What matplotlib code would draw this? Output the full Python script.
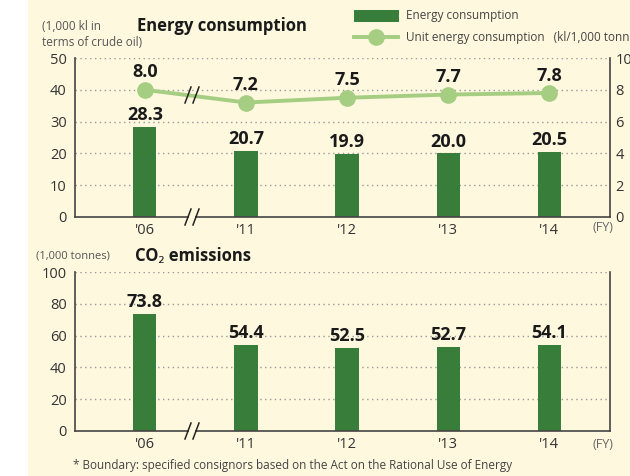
import matplotlib
matplotlib.use("Agg")
import matplotlib.pyplot as plt
from matplotlib.patches import Rectangle
from matplotlib.lines import Line2D

plt.rcParams['font.family'] = ['Open Sans', 'Noto Sans', 'DejaVu Sans']

years = ["'06", "'11", "'12", "'13", "'14"]
energy = [28.3, 20.7, 19.9, 20.0, 20.5]
unit_energy = [8.0, 7.2, 7.5, 7.7, 7.8]
co2 = [73.8, 54.4, 52.5, 52.7, 54.1]
energy_ticks = [0, 10, 20, 30, 40, 50]
unit_ticks = [0, 2, 4, 6, 8, 10]
co2_ticks = [0, 20, 40, 60, 80, 100]

W, H = 630, 476
BG = '#FEF8DF'
BAR = '#387D3A'
LINE = '#A5CE82'
AX = '#444444'
TXT = '#333333'

fig = plt.figure(figsize=(W / 100, H / 100), dpi=100)
fig.patch.set_facecolor('white')
fig.add_artist(Rectangle((28 / W, 0), 1 - 28 / W, 1, transform=fig.transFigure,
                         facecolor=BG, edgecolor='none', zorder=-10))


def fx(px):
    return px / W


def fy(py):
    return 1 - py / H


def make_axes(top_px, bottom_px):
    ax = fig.add_axes([fx(75), fy(bottom_px), fx(610) - fx(75), (bottom_px - top_px) / H])
    ax.set_facecolor('none')
    ax.spines['top'].set_visible(False)
    for s in ['left', 'right', 'bottom']:
        ax.spines[s].set_color(AX)
        ax.spines[s].set_linewidth(1.2)
    ax.set_xlim(-0.69, 4.60)
    ax.tick_params(axis='both', length=0, labelsize=10.5, labelcolor=TXT)
    ax.tick_params(axis='y', pad=6)
    ax.tick_params(axis='x', pad=4)
    return ax


def grid(ax, ticks):
    for t in ticks[1:]:
        ax.axhline(t, color='#999999', lw=1.0, ls=(0, (1, 2.5)), zorder=0)


x = list(range(len(years)))

# ---------- top chart ----------
ax1 = make_axes(58, 217)
ax1.set_ylim(0, 50)
ax1.set_yticks(energy_ticks)
grid(ax1, energy_ticks)
ax1.bar(x, energy, width=0.23, color=BAR, zorder=2)
for xi, v in zip(x, energy):
    ax1.annotate(f'{v:.1f}', (xi, v), xytext=(0, 2), textcoords='offset points',
                 ha='center', va='bottom', fontsize=13, fontweight='bold', color='#1a1a1a')
ax1.set_xticks(x)
ax1.set_xticklabels(years)

ax2 = ax1.twinx()
ax2.set_ylim(0, 10)
ax2.set_yticks(unit_ticks)
ax2.set_xlim(-0.69, 4.60)
for s in ['top', 'left', 'bottom', 'right']:
    ax2.spines[s].set_visible(False)
ax2.tick_params(axis='y', length=0, labelsize=10.5, labelcolor=TXT, pad=4)
ax2.plot(x, unit_energy, color=LINE, lw=2.8, marker='o', markersize=11,
         markeredgecolor=LINE, zorder=4)
for xi, v in zip(x, unit_energy):
    ax2.annotate(f'{v:.1f}', (xi, v), xytext=(0, 6), textcoords='offset points',
                 ha='center', va='bottom', fontsize=13, fontweight='bold', color='#1a1a1a')


def slashes(xc, ypx_center):
    for dx in (-4, 4):
        x0 = fx(xc + dx - 3)
        x1 = fx(xc + dx + 3)
        fig.add_artist(Line2D([x0, x1], [fy(ypx_center + 8), fy(ypx_center - 8)],
                              transform=fig.transFigure, color='#222222', lw=1.1, zorder=8))


def gap(xc, ypx):
    fig.add_artist(Rectangle((fx(xc - 3), fy(ypx + 2)), 6 / W, 4 / H, transform=fig.transFigure,
                             facecolor=BG, edgecolor='none', zorder=7))


gap(192, 217)
slashes(192, 217)
slashes(192, 95)

fig.text(fx(603), fy(227), '(FY)', ha='center', va='center', fontsize=9, color='#666666')

# ---------- bottom chart ----------
ax3 = make_axes(272, 431)
ax3.set_ylim(0, 100)
ax3.set_yticks(co2_ticks)
grid(ax3, co2_ticks)
ax3.bar(x, co2, width=0.23, color=BAR, zorder=2)
for xi, v in zip(x, co2):
    ax3.annotate(f'{v:.1f}', (xi, v), xytext=(0, 2), textcoords='offset points',
                 ha='center', va='bottom', fontsize=13, fontweight='bold', color='#1a1a1a')
ax3.set_xticks(x)
ax3.set_xticklabels(years)
gap(192, 431)
slashes(192, 431)
fig.text(fx(603), fy(444), '(FY)', ha='center', va='center', fontsize=9, color='#666666')

# ---------- texts ----------
fig.text(fx(42), fy(27), '(1,000 kl in', fontsize=8.5, color='#555555', ha='left', va='center')
fig.text(fx(42), fy(43), 'terms of crude oil)', fontsize=8.5, color='#555555', ha='left', va='center')
fig.text(fx(137), fy(26), 'Energy consumption', fontsize=12, fontweight='bold',
         color='#1a1a1a', ha='left', va='center')

fig.text(fx(36), fy(256), '(1,000 tonnes)', fontsize=8, color='#555555', ha='left', va='center')
fig.text(fx(135), fy(256), 'CO\u2082 emissions', fontsize=12, fontweight='bold',
         color='#1a1a1a', ha='left', va='center')

fig.text(fx(73), fy(466), '* Boundary: specified consignors based on the Act on the Rational Use of Energy',
         fontsize=8.5, color='#444444', ha='left', va='center')

# legend
fig.add_artist(Rectangle((fx(354), fy(22)), 45 / W, 12 / H, transform=fig.transFigure,
                         facecolor=BAR, edgecolor='none'))
fig.text(fx(406), fy(16), 'Energy consumption', fontsize=8.5, color='#444444', ha='left', va='center')
fig.add_artist(Line2D([fx(354), fx(398)], [fy(37), fy(37)], transform=fig.transFigure,
                      color=LINE, lw=2.8))
fig.add_artist(Line2D([fx(376)], [fy(37)], transform=fig.transFigure, color=LINE,
                      marker='o', markersize=11, markeredgecolor=LINE))
fig.text(fx(406), fy(37), 'Unit energy consumption   (kl/1,000 tonnes)', fontsize=8.5,
         color='#444444', ha='left', va='center')

fig.savefig('out.png', dpi=100, facecolor=fig.get_facecolor())
